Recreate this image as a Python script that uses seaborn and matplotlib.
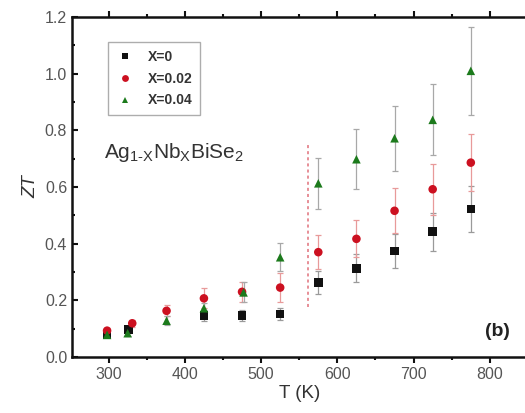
import numpy as np
import pandas as pd
import matplotlib
matplotlib.use("Agg")
import matplotlib.pyplot as plt
import seaborn as sns
from matplotlib.ticker import MultipleLocator

# ---- data ----
labels = ["X=0", "X=0.02", "X=0.04"]
T_x0 = [298, 326, 425, 475, 525, 575, 625, 675, 725, 775]
ZT_x0 = [0.080, 0.098, 0.146, 0.146, 0.152, 0.262, 0.313, 0.374, 0.442, 0.522]
err_x0 = [0.010, 0.012, 0.020, 0.020, 0.020, 0.040, 0.050, 0.060, 0.067, 0.080]

T_x2 = [298, 331, 376, 425, 475, 525, 575, 625, 675, 725, 775]
ZT_x2 = [0.093, 0.119, 0.163, 0.207, 0.230, 0.245, 0.370, 0.417, 0.516, 0.592, 0.686]
err_x2 = [0.010, 0.012, 0.020, 0.035, 0.035, 0.050, 0.060, 0.065, 0.080, 0.090, 0.100]

T_x4 = [298, 325, 376, 425, 477, 525, 575, 625, 675, 725, 775]
ZT_x4 = [0.078, 0.084, 0.128, 0.172, 0.228, 0.352, 0.613, 0.698, 0.772, 0.837, 1.010]
err_x4 = [0.008, 0.010, 0.015, 0.020, 0.035, 0.050, 0.090, 0.105, 0.115, 0.125, 0.155]

transition_T = 561
transition_ZT = [0.175, 0.748]

colors = ["#111111", "#cc1020", "#1c7a1c"]
err_colors = ["#9a9a9a", "#e89a9a", "#a8a8a8"]
markers = ["s", "o", "^"]

df = pd.concat([
    pd.DataFrame({"T": T_x0, "ZT": ZT_x0, "err": err_x0, "series": labels[0]}),
    pd.DataFrame({"T": T_x2, "ZT": ZT_x2, "err": err_x2, "series": labels[1]}),
    pd.DataFrame({"T": T_x4, "ZT": ZT_x4, "err": err_x4, "series": labels[2]}),
], ignore_index=True)

sns.set_style("ticks")
plt.rcParams["font.family"] = ["Liberation Sans", "DejaVu Sans"]
plt.rcParams["mathtext.fontset"] = "custom"
plt.rcParams["mathtext.rm"] = "Liberation Sans"
plt.rcParams["mathtext.it"] = "Liberation Sans:italic"

fig = plt.figure(figsize=(5.25, 4.13), dpi=100)
ax = fig.add_axes([72 / 525, 56 / 413, 456 / 525, 340 / 413])

# error bars
for lab, ec in zip(labels, err_colors):
    d = df[df.series == lab]
    ax.errorbar(d["T"], d["ZT"], yerr=d["err"], fmt="none", ecolor=ec,
                elinewidth=0.9, capsize=2.5, capthick=0.9, zorder=2)

# transition marker
ax.vlines(transition_T, transition_ZT[0], transition_ZT[1], colors="#e0707a",
          linestyles=(0, (2, 2)), linewidth=1.1, zorder=1)

sns.scatterplot(data=df, x="T", y="ZT", hue="series", style="series",
                hue_order=labels, style_order=labels,
                palette=dict(zip(labels, colors)),
                markers=dict(zip(labels, markers)),
                s=38, edgecolor="none", linewidth=0, ax=ax, zorder=3)

ax.set_xlim(252, 850)
ax.set_ylim(0, 1.2)
ax.xaxis.set_major_locator(MultipleLocator(100))
ax.xaxis.set_minor_locator(MultipleLocator(50))
ax.yaxis.set_major_locator(MultipleLocator(0.2))
ax.yaxis.set_minor_locator(MultipleLocator(0.1))
ax.yaxis.set_major_formatter(matplotlib.ticker.FormatStrFormatter("%.1f"))

for side in ["left", "bottom", "top"]:
    ax.spines[side].set_linewidth(1.8)
    ax.spines[side].set_color("#111111")
ax.spines["right"].set_visible(False)

ax.tick_params(axis="x", which="both", direction="out", top=True, bottom=True,
               width=1.5, colors="#111111", labelcolor="#555555", labelsize=11.5)
ax.tick_params(axis="x", which="major", length=4)
ax.tick_params(axis="x", which="minor", length=2.5)
ax.tick_params(axis="y", which="both", direction="in", left=True, right=False,
               width=1.5, colors="#111111", labelcolor="#555555", labelsize=11.5)
ax.tick_params(axis="y", which="major", length=4)
ax.tick_params(axis="y", which="minor", length=2.5)

ax.set_xlabel("T (K)", fontsize=13.5, color="#333333", labelpad=2)
ax.set_ylabel("ZT", fontsize=13.5, color="#333333", style="italic", labelpad=4)

ax.text(0.07, 0.585, r"Ag$_{\mathrm{1\text{-}X}}$Nb$_{\mathrm{X}}$BiSe$_{2}$",
        transform=ax.transAxes, fontsize=15, color="#333333", va="baseline")
ax.text(0.905, 0.062, "(b)", transform=ax.transAxes, fontsize=14,
        fontweight="bold", color="#222222")

handles, labs = ax.get_legend_handles_labels()
leg = ax.legend(handles, labs, loc="upper left", bbox_to_anchor=(0.08, 0.925),
                frameon=True, fancybox=False, edgecolor="#999999",
                fontsize=10, markerscale=0.8, handletextpad=1.0,
                labelspacing=0.55, borderpad=0.55, handlelength=1.3,
                borderaxespad=0)
leg.get_frame().set_linewidth(1.0)
for t in leg.get_texts():
    t.set_fontweight("bold")
    t.set_color("#333333")

fig.savefig("out.png", dpi=100)
